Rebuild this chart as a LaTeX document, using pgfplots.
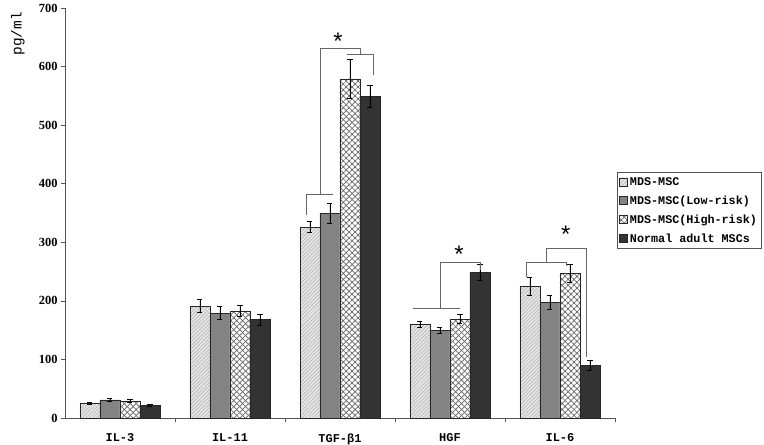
\documentclass[border=0pt]{standalone}
\usepackage{pgfplots}
\pgfplotsset{compat=1.18}
\usepackage{fontspec}
\setmainfont{Liberation Serif}
\newfontfamily\monof{Liberation Mono}
\newfontfamily\starf{Liberation Sans}
\usetikzlibrary{patterns,patterns.meta}
\definecolor{axgray}{HTML}{555555}
\definecolor{midgray}{HTML}{838383}
\definecolor{darkbar}{HTML}{333333}
\definecolor{brgray}{HTML}{666666}
\begin{document}
\begin{tikzpicture}
\begin{axis}[
  at={(0,0)}, anchor=south west,
  scale only axis, width=550bp, height=410bp,
  ybar=0pt, bar width=20bp,
  xmin=-0.5, xmax=4.5, ymin=0, ymax=700,
  axis x line*=bottom, axis y line*=left,
  axis line style={axgray, line width=0.8pt},
  xtick={0,1,2,3,4},
  xticklabels={IL-3,IL-11,TGF-β1,HGF,IL-6},
  x tick label style={font=\monof\fontsize{12}{12}\selectfont\bfseries, yshift=-8bp},
  major x tick style={draw=none},
  minor xtick={0.5,1.5,2.5,3.5,4.5},
  minor x tick style={axgray, line width=0.6pt},
  minor tick length=4bp,
  ytick={0,100,...,700},
  y tick label style={font=\fontsize{12.5}{13}\selectfont\bfseries},
  /pgf/number format/assume math mode=true,
  ytick style={axgray, line width=0.6pt},
  tick align=outside, major tick length=4bp,
  ylabel={pg/ml},
  every axis y label/.style={at={(rel axis cs:0,0.937)}, xshift=-47bp, rotate=90, anchor=center, font=\monof\fontsize{14.5}{15}\selectfont},
  error bars/y dir=both, error bars/y explicit,
  error bars/error bar style={black, line width=0.7pt},
  error bars/error mark options={rotate=90, mark size=2.5bp, black, line width=0.7pt},
  legend style={at={(rel axis cs:1.004,0.6)}, anchor=north west, draw=axgray, line width=0.6pt,
    font=\monof\fontsize{11.8}{13}\selectfont\bfseries, inner xsep=2bp, inner ysep=3bp,
    row sep=5bp, cells={anchor=west}},
  legend image code/.code={\draw[#1] (0bp,-4bp) rectangle (8bp,4bp);},
]
\addplot[draw=black!85, line width=0.5pt, fill=white!90!black,
  postaction={pattern={Lines[angle=45,distance=2.6pt,line width=0.35pt]}, pattern color=gray!75}]
  coordinates {(0,25) +- (0,2) (1,191) +- (0,11) (2,326) +- (0,9) (3,160) +- (0,5) (4,225) +- (0,15)};
\addplot[draw=black!85, line width=0.5pt, fill=midgray]
  coordinates {(0,31) +- (0,2) (1,179) +- (0,11) (2,350) +- (0,17) (3,150) +- (0,5) (4,197) +- (0,12)};
\addplot[draw=black!85, line width=0.5pt, fill=white,
  postaction={pattern={Lines[angle=45,distance=4.2pt,line width=0.7pt]}, pattern color=gray!80!black},
  postaction={pattern={Lines[angle=-45,distance=4.2pt,line width=0.7pt]}, pattern color=gray!80!black}]
  coordinates {(0,29) +- (0,2) (1,183) +- (0,9) (2,579) +- (0,33) (3,169) +- (0,8) (4,247) +- (0,15)};
\addplot[draw=black!85, line width=0.5pt, fill=darkbar]
  coordinates {(0,22) +- (0,1.5) (1,168) +- (0,9) (2,549) +- (0,19) (3,249) +- (0,14) (4,90) +- (0,8)};
\legend{MDS-MSC,MDS-MSC(Low-risk),MDS-MSC(High-risk),Normal adult MSCs}
% significance brackets
\draw[brgray, line width=0.8pt] (axis cs:1.697,347) -- (axis cs:1.697,381) -- (axis cs:1.936,381);
\draw[brgray, line width=0.8pt] (axis cs:1.818,381) -- (axis cs:1.818,631) -- (axis cs:2.182,631) -- (axis cs:2.182,621);
\draw[brgray, line width=0.8pt] (axis cs:2.061,621) -- (axis cs:2.303,621) -- (axis cs:2.303,586);
\node[font=\starf\fontsize{24}{24}\selectfont] at (axis cs:1.982,643) {*};
\draw[brgray, line width=0.8pt] (axis cs:2.664,187) -- (axis cs:3.091,187);
\draw[brgray, line width=0.8pt] (axis cs:2.909,187) -- (axis cs:2.909,266) -- (axis cs:3.273,266) -- (axis cs:3.273,253);
\node[font=\starf\fontsize{24}{24}\selectfont] at (axis cs:3.082,280) {*};
\draw[brgray, line width=0.8pt] (axis cs:3.697,241) -- (axis cs:3.697,266) -- (axis cs:4.061,266) -- (axis cs:4.061,259);
\draw[brgray, line width=0.8pt] (axis cs:3.879,266) -- (axis cs:3.879,290) -- (axis cs:4.243,290) -- (axis cs:4.243,105);
\node[font=\starf\fontsize{24}{24}\selectfont] at (axis cs:4.052,314) {*};
\end{axis}
\pgfresetboundingbox
\useasboundingbox (-65bp,-27bp) rectangle (699bp,418bp);
\end{tikzpicture}
\end{document}
